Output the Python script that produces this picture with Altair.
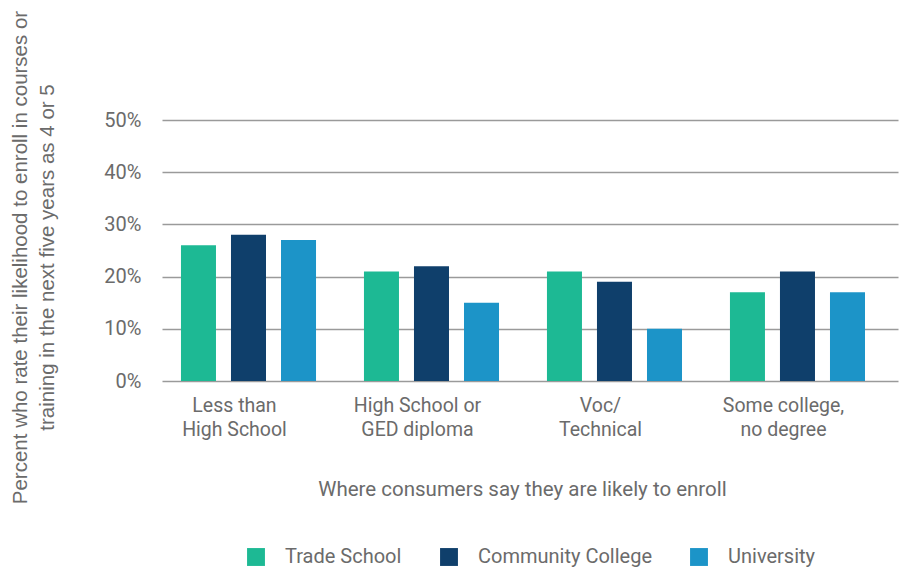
import altair as alt
import pandas as pd

categories = ["Less than\nHigh School", "High School or\nGED diploma", "Voc/\nTechnical", "Some college,\nno degree"]
series = ["Trade School", "Community College", "University"]
trade = [0.26, 0.21, 0.21, 0.17]
community = [0.28, 0.22, 0.19, 0.21]
university = [0.27, 0.15, 0.10, 0.17]
colors = ["#1DB994", "#0F3F6B", "#1C94C8"]

rows = []
for i, c in enumerate(categories):
    for s, vals in zip(series, [trade, community, university]):
        rows.append({"cat": c, "series": s, "value": vals[i]})
df = pd.DataFrame(rows)

font = "Roboto"
gray = "#6b6b6b"

chart = alt.Chart(df).mark_bar().encode(
    x=alt.X("cat:N", sort=categories,
            scale=alt.Scale(paddingInner=0.262, paddingOuter=0.142, align=0.365),
            axis=alt.Axis(title="Where consumers say they are likely to enroll",
                          labelAngle=0, labelExpr="split(datum.label, '\\n')",
                          labelFontSize=19.5, labelColor=gray, labelFont=font,
                          labelLineHeight=24, labelPadding=15, labelOffset=-14,
                          ticks=False, domain=False,
                          titleFont=font, titleFontSize=20.5, titleColor=gray,
                          titleFontWeight="normal", titleY=108, titleX=360,
                          titleBaseline="middle")),
    xOffset=alt.XOffset("series:N", sort=series,
                        scale=alt.Scale(paddingInner=0.3)),
    y=alt.Y("value:Q", scale=alt.Scale(domain=[0, 0.5]),
            axis=alt.Axis(format=".0%", values=[0, 0.1, 0.2, 0.3, 0.4, 0.5],
                          title=["Percent who rate their likelihood to enroll in courses or",
                                 "training in the next five years as 4 or 5"],
                          labelFontSize=20, labelColor=gray, labelFont=font,
                          labelPadding=21, ticks=False, domain=False,
                          gridColor="#9a9a9a", gridWidth=1.5,
                          titleFont="Liberation Sans", titleFontSize=20.5,
                          titleColor=gray, titleFontWeight="normal",
                          titleLineHeight=27, titleX=-152, titleY=137,
                          titleBaseline="top", titleAlign="center")),
    color=alt.Color("series:N", sort=series,
                    scale=alt.Scale(domain=series, range=colors),
                    legend=alt.Legend(title=None, orient="none", direction="horizontal",
                                      legendX=84, legendY=427,
                                      symbolType="square", symbolSize=320,
                                      symbolStrokeWidth=0, symbolOpacity=1,
                                      labelFont=font, labelFontSize=20,
                                      labelColor=gray, labelOffset=19,
                                      labelLimit=0, columnPadding=37)),
).properties(
    width=736, height=261,
    autosize=alt.AutoSizeParams(type="none"),
    padding={"left": 162, "top": 120, "right": 9, "bottom": 188},
).configure_view(stroke=None)

chart.save("out.html", embed_options={"renderer": "svg", "actions": False})
